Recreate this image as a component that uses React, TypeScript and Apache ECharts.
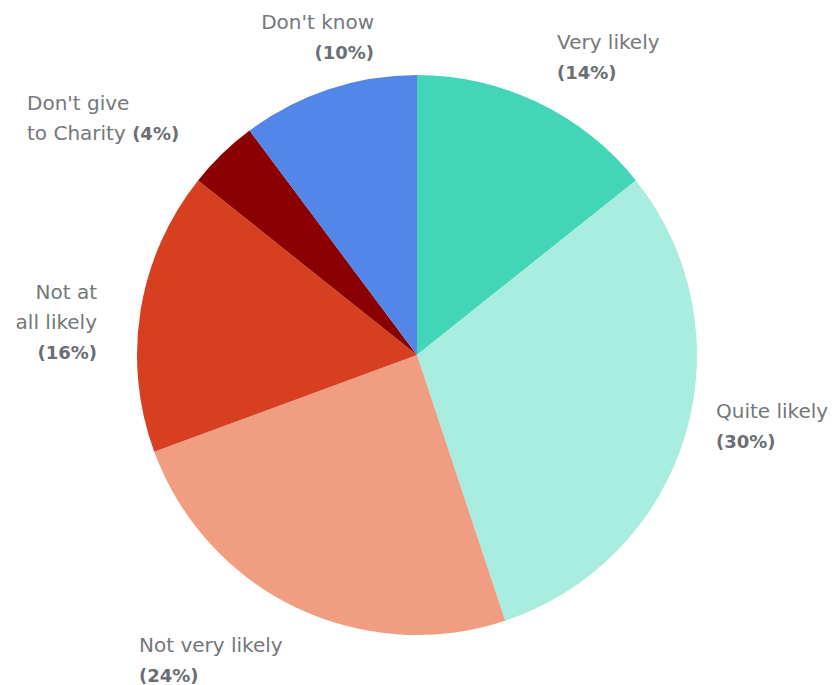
import React, { useEffect, useRef } from "react";
import * as echarts from "echarts";

const categories = ["Very likely", "Quite likely", "Not very likely", "Not at all likely", "Don't give to Charity", "Don't know"];
const values = [14, 30, 24, 16, 4, 10];
const colors = ["#43d5b8", "#a8ede0", "#f19d81", "#d63f20", "#8b0000", "#5386e9"];
const labelTexts = [
  "{n|Very likely}\n{p|(14%)}",
  "{n|Quite likely}\n{p|(30%)}",
  "{n|Not very likely}\n{p|(24%)}",
  "{n|Not at}\n{n|all likely}\n{p|(16%)}",
  "{n|Don't give}\n{n|to Charity }{p|(4%)}",
  "{n|Don't know}\n{p|(10%)}",
];
// label anchors (layout only)
const labelPos = [
  { x: 557, y: 27, align: "left" },
  { x: 716, y: 396, align: "left" },
  { x: 139, y: 630, align: "left" },
  { x: 97, y: 277, align: "right" },
  { x: 27, y: 88, align: "left" },
  { x: 374, y: 7, align: "right" },
];

export default function App() {
  const ref = useRef<HTMLDivElement>(null);
  useEffect(() => {
    document.body.style.margin = "0";
    const chart = echarts.init(ref.current!, null, { renderer: "svg" });
    const font = "'DejaVu Sans', sans-serif";
    chart.setOption({
      animation: false,
      series: [
        {
          type: "pie",
          center: [417, 355],
          radius: 280,
          startAngle: 90,
          clockwise: true,
          data: categories.map((c, i) => ({
            name: c,
            value: values[i],
            itemStyle: { color: colors[i] },
            label: { formatter: labelTexts[i] },
          })),
          labelLine: { show: false },
          label: {
            show: true,
            position: "outside",
            overflow: "none",
            color: "#6b6e72",
            fontFamily: font,
            rich: {
              n: { fontSize: 20, color: "#74777b", fontFamily: font, lineHeight: 30 },
              p: { fontSize: 18, fontWeight: "bold", color: "#6b6e72", fontFamily: font, lineHeight: 30 },
            },
          },
          labelLayout: (params: any) => {
            const p = labelPos[params.dataIndex];
            return { x: p.x, y: p.y, align: p.align, verticalAlign: "top" };
          },
          emphasis: { disabled: true },
        },
      ],
    });
    return () => chart.dispose();
  }, []);
  return <div ref={ref} style={{ width: 834, height: 685 }} />;
}
